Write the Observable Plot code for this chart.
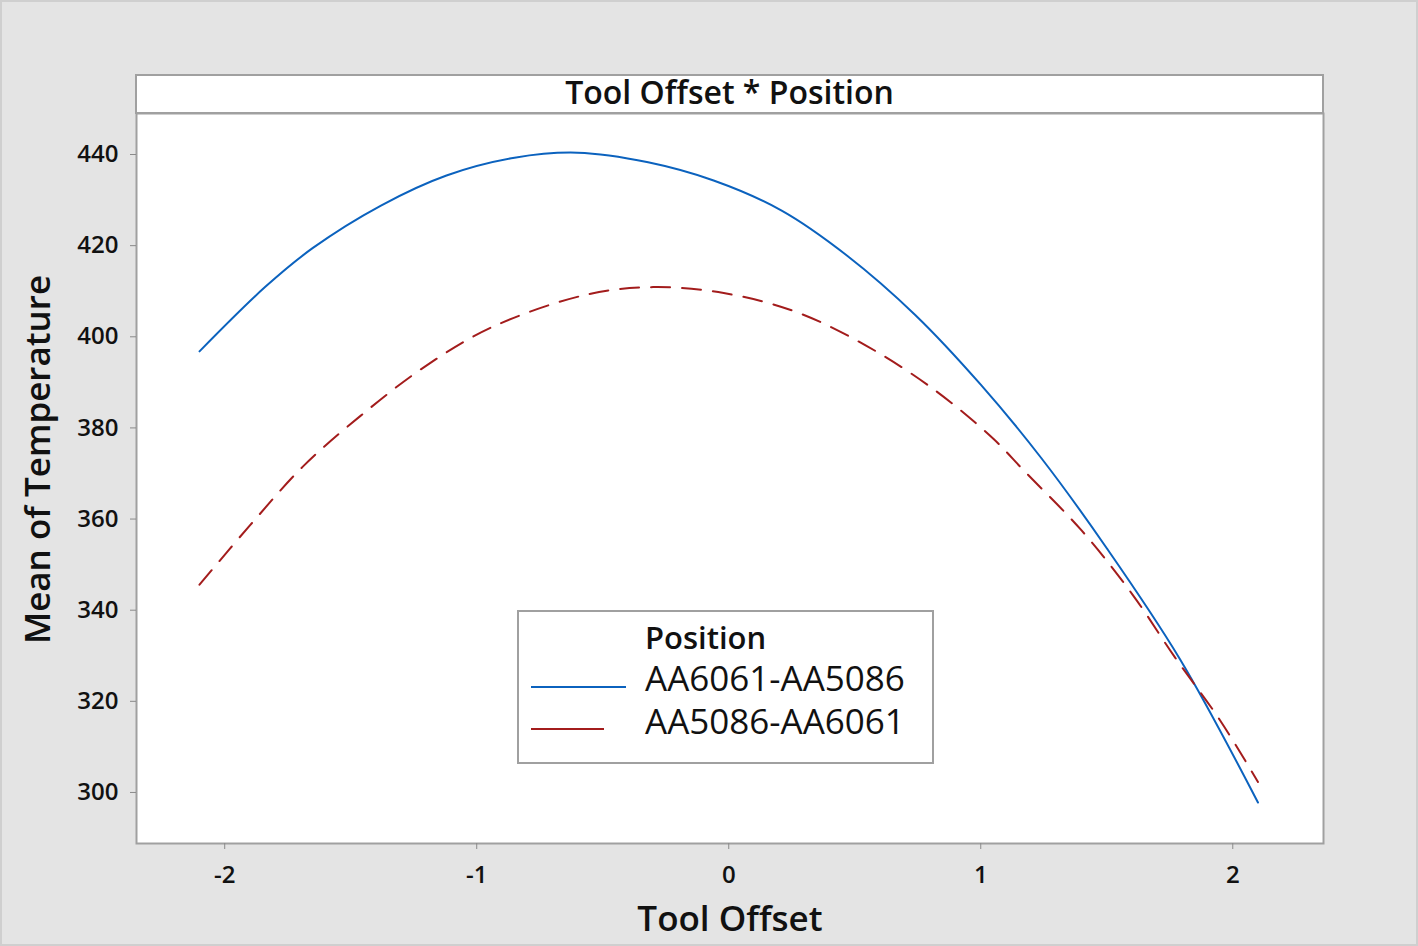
<!DOCTYPE html>
<html>
<head>
<meta charset="utf-8">
<script src="https://cdn.jsdelivr.net/npm/d3@7"></script>
<script src="https://cdn.jsdelivr.net/npm/@observablehq/plot@0.6"></script>
<style>
  html, body { margin: 0; padding: 0; background: #e4e4e4; }
  #wrap { position: relative; width: 1418px; height: 946px; overflow: hidden; background: #e4e4e4; }
  #edge { position: absolute; left: 0; top: 0; width: 1418px; height: 946px; box-sizing: border-box; border: 2px solid #cfcfcf; pointer-events: none; }
  #chart { position: absolute; left: 0; top: 0; }
  #header { position: absolute; left: 135px; top: 74px; width: 1185px; height: 36px; background: #fff;
            border: 2px solid #a0a0a0; font-family: "Open Sans", sans-serif; font-weight: 600; font-size: 32px;
            color: #111; text-align: center; line-height: 32px; }
  #legend { position: absolute; left: 517px; top: 610px; width: 413px; height: 150px; background: #fff;
            border: 2px solid #a0a0a0; font-family: "Open Sans", sans-serif; color: #111; }
  .lg { position: absolute; font-size: 35px; white-space: nowrap; line-height: 40px; }
</style>
</head>
<body>
<div id="wrap">
  <div id="edge"></div>
  <div id="chart"></div>
  <div id="header"></div>
  <div id="legend"></div>
</div>
<script>
// Data
const series = ["AA6061-AA5086", "AA5086-AA6061"];
const colors = ["#0b62be", "#a31c1c"];
const blueX = [-2.10, -1.84, -1.65, -1.38, -1.12, -0.85, -0.60, -0.32, -0.06, 0.21, 0.47, 0.74, 1.00, 1.24, 1.50, 1.79, 2.10];
const blueY = [396.8, 410.9, 419.5, 428.8, 435.4, 439.3, 440.4, 438.3, 434.3, 427.7, 417.8, 404.8, 389.5, 373.4, 353.6, 329.3, 297.8];
const redX = [-2.10, -1.90, -1.69, -1.46, -1.21, -0.94, -0.56, -0.30, -0.02, 0.27, 0.55, 0.82, 1.05, 1.17, 1.40, 1.60, 1.77, 1.95, 2.10];
const redY = [345.6, 358.6, 371.5, 382.7, 393.3, 402.1, 409.3, 410.9, 409.6, 405.4, 397.9, 388.2, 377.6, 370.7, 357.5, 343.6, 329.7, 315.8, 302.3];
const xTicks = [-2, -1, 0, 1, 2];
const xTickLabels = ["-2", "-1", "0", "1", "2"];
const yTicks = [300, 320, 340, 360, 380, 400, 420, 440];
const title = "Tool Offset * Position";
const xLabel = "Tool Offset";
const yLabel = "Mean of Temperature";
const legendTitle = "Position";

const rows = [
  ...blueX.map((x, i) => ({x, y: blueY[i], s: series[0]})),
  ...redX.map((x, i) => ({x, y: redY[i], s: series[1]}))
];

const chart = Plot.plot({
  width: 1418, height: 946,
  marginLeft: 136, marginRight: 95, marginTop: 113, marginBottom: 103,
  style: {background: "transparent", fontFamily: "'Open Sans', sans-serif", color: "#111", overflow: "visible"},
  x: {domain: [-2.35, 2.36]},
  y: {domain: [288.8, 449]},
  color: {domain: series, range: colors},
  marks: [
    Plot.frame({fill: "white", stroke: "#a0a0a0", strokeWidth: 2}),
    Plot.line(rows.filter(d => d.s === series[0]), {x: "x", y: "y", stroke: colors[0], strokeWidth: 2, curve: "catmull-rom"}),
    Plot.line(rows.filter(d => d.s === series[1]), {x: "x", y: "y", stroke: colors[1], strokeWidth: 2, strokeDasharray: "19,12", curve: "catmull-rom"}),
    Plot.axisX({ticks: xTicks, tickFormat: (d, i) => xTickLabels[i], label: null, tickSize: 6, tickPadding: 16, stroke: "#8a8a8a", fill: "#111", fontSize: 24, fontWeight: 600}),
    Plot.axisY({ticks: yTicks, label: null, tickSize: 6, tickPadding: 12, stroke: "#8a8a8a", fill: "#111", fontSize: 24, fontWeight: 600}),
    Plot.text([xLabel], {text: d => d, frameAnchor: "bottom", textAnchor: "middle", lineAnchor: "middle", dy: 76, fontSize: 35, fontWeight: 600, fill: "#111"}),
    Plot.text([yLabel], {text: d => d, frameAnchor: "left", textAnchor: "middle", dx: -98, dy: -19, rotate: -90, fontSize: 35, fontWeight: 600, fill: "#111"})
  ]
});
document.getElementById("chart").appendChild(chart);
document.getElementById("header").textContent = title;

const lg = document.getElementById("legend");
lg.innerHTML = `
  <div class="lg" style="left:126px; top:5px; font-size:31px; font-weight:600;">${legendTitle}</div>
  <svg style="position:absolute; left:0; top:0;" width="413" height="150">
    <line x1="12" x2="107" y1="75" y2="75" stroke="${colors[0]}" stroke-width="2"/>
    <line x1="12" x2="85" y1="117" y2="117" stroke="${colors[1]}" stroke-width="2"/>
  </svg>
  <div class="lg" style="left:126px; top:46px;">${series[0]}</div>
  <div class="lg" style="left:126px; top:89px;">${series[1]}</div>`;
</script>
</body>
</html>
